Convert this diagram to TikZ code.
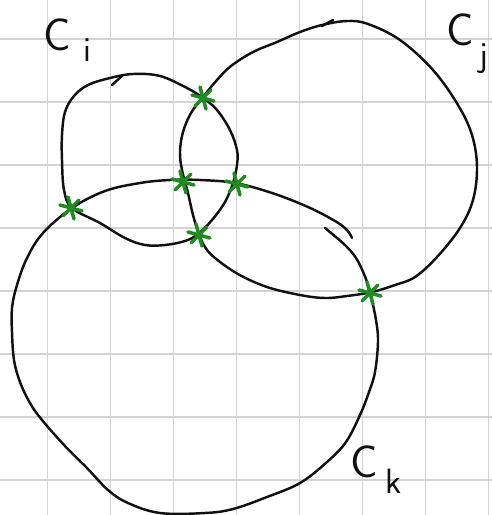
\documentclass[tikz,border=0pt]{standalone}
\usepackage{xcolor}
\definecolor{Ink}{HTML}{111111}
\definecolor{GridLine}{HTML}{D3D3D3}
\definecolor{Mark}{HTML}{1E8C1E}
\usepackage{tikz}
\usetikzlibrary{positioning}
\tikzset{
  gridline/.style={draw=GridLine,line width=.7pt},
  curve/.style={draw=Ink,line width=1.4pt,line cap=round,line join=round},
  hit/.style={draw=Mark,line width=2pt,line cap=round},
  lbl/.style={text=Ink,font=\sffamily\fontsize{26}{28}\selectfont,inner sep=0pt},
  sublbl/.style={text=Ink,font=\sffamily\fontsize{20}{22}\selectfont,inner sep=0pt}
}

\begin{document}
\begin{tikzpicture}[x=0.02cm,y=-0.02cm]
\useasboundingbox (0,0) rectangle (492,515);
% squared paper
\foreach \gx in {47.5,110.5,...,500} \draw[gridline] (\gx,0) -- (\gx,515);
\foreach \gy in {39,102,...,515} \draw[gridline] (0,\gy) -- (492,\gy);

% circle C_i
\draw[curve] plot[smooth cycle,tension=.6] coordinates {(110,78) (133,74) (160,76) (187,88) (203,98) (217,110) (230,130) (237,150) (237,165) (233,183) (225,202) (212,220) (198,234) (185,241) (165,245) (145,245) (125,238) (100,223) (72,208) (64,190) (62,160) (62,135) (65,112) (74,96) (88,85)};
\draw[curve] (112,85) -- (122,76);

% circle C_j
\draw[curve] plot[smooth cycle,tension=.6] coordinates {(347,21) (368,24) (400,40) (433,70) (458,105) (472,135) (477,167) (473,200) (460,228) (437,257) (415,277) (395,285) (372,292) (347,296) (325,298) (300,295) (267,287) (238,274) (215,258) (205,247) (199,234) (193,215) (188,193) (182,170) (180,152) (183,132) (191,113) (203,97) (217,80) (231,66) (253,52) (277,42) (300,32) (322,25)};
\draw[curve] (322,26) -- (333,20);

% circle C_k
\draw[curve] plot[smooth,tension=.6] coordinates {(325,228) (345,245) (356,258) (364,274) (370,292) (376,320) (378,342) (375,372) (369,392) (360,415) (346,442) (327,462) (300,483) (267,497) (233,509) (205,513) (160,513) (128,503) (108,490) (87,468) (65,446) (42,420) (30,403) (20,382) (14,360) (12,332) (12,308) (17,285) (27,258) (43,233) (72,208) (105,191) (140,183) (170,180) (200,180) (235,183) (272,193) (308,207) (335,221) (347,230) (352,238)};

% intersection points
\coordinate (ij1) at (203,98);
\coordinate (ij2) at (183,182);
\coordinate (ik1) at (71,208);
\coordinate (ik2) at (237,184);
\coordinate (jk1) at (199,235);
\coordinate (jk2) at (370,293);
\foreach \p in {ij1,ij2,ik1,ik2,jk1,jk2}{
  \draw[hit] ([shift={(-11,-3)}]\p) -- ([shift={(11,3)}]\p);
  \draw[hit] ([shift={(-8,8)}]\p) -- ([shift={(8,-8)}]\p);
  \draw[hit] ([shift={(-3,-11)}]\p) -- ([shift={(3,11)}]\p);
}

% labels
\node[lbl] (ci) at (57,35) {C};
\node[sublbl,right=2.5mm of ci.south east,anchor=base west,yshift=-2mm] (cisub) {i};
\node[lbl] (cj) at (460,30) {C};
\node[sublbl,right=1mm of cj.south east,anchor=base west,yshift=-4mm] (cjsub) {j};
\node[lbl] (ck) at (364,462) {C};
\node[sublbl,right=1.5mm of ck.south east,anchor=base west,yshift=-3mm] (cksub) {k};
\end{tikzpicture}
\end{document}
